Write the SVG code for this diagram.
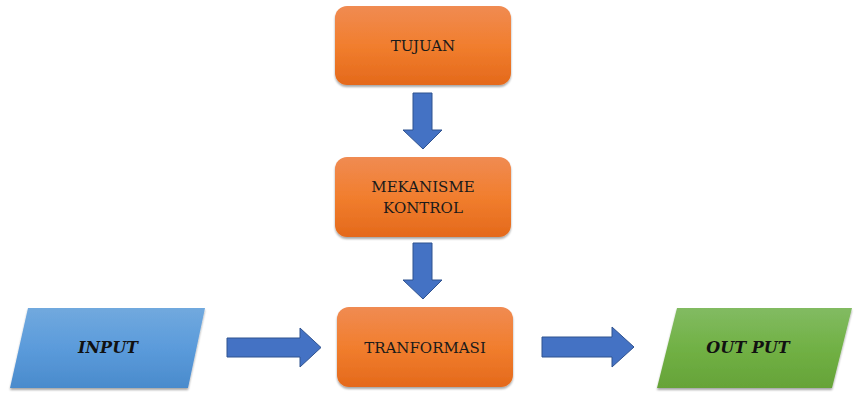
<svg xmlns="http://www.w3.org/2000/svg" width="860" height="394" viewBox="0 0 860 394">
  <defs>
    <linearGradient id="gOrange" x1="0" y1="0" x2="0" y2="1">
      <stop offset="0" stop-color="#F08B52"/>
      <stop offset="0.5" stop-color="#F17E2E"/>
      <stop offset="1" stop-color="#E4691B"/>
    </linearGradient>
    <linearGradient id="gBlue" x1="0" y1="0" x2="0" y2="1">
      <stop offset="0" stop-color="#71A9DE"/>
      <stop offset="0.5" stop-color="#5B9BDB"/>
      <stop offset="1" stop-color="#4A8BCC"/>
    </linearGradient>
    <linearGradient id="gGreen" x1="0" y1="0" x2="0" y2="1">
      <stop offset="0" stop-color="#82BB62"/>
      <stop offset="0.5" stop-color="#71B145"/>
      <stop offset="1" stop-color="#66A338"/>
    </linearGradient>
    <filter id="shadow" x="-10%" y="-10%" width="120%" height="130%">
      <feGaussianBlur in="SourceAlpha" stdDeviation="1.2"/>
      <feOffset dx="0" dy="1.5"/>
      <feComponentTransfer><feFuncA type="linear" slope="0.35"/></feComponentTransfer>
      <feMerge><feMergeNode/><feMergeNode in="SourceGraphic"/></feMerge>
    </filter>
  </defs>
  <style>
    .box { fill: url(#gOrange); filter: url(#shadow); }
    .lbl { font-family: "DejaVu Serif", "Liberation Serif", serif; font-size: 15px; fill: #1a1a1a; text-anchor: middle; }
    .io { font-family: "DejaVu Serif", "Liberation Serif", serif; font-size: 16px; font-weight: bold; font-style: italic; fill: #111; text-anchor: middle; }
    .arrow { fill: #4472C4; stroke: #2F528F; stroke-width: 1; }
  </style>
  <rect width="860" height="394" fill="#ffffff"/>

  <g id="tujuan">
    <rect class="box" x="335" y="6" width="176" height="79" rx="12"/>
    <text class="lbl" x="423" y="51">TUJUAN</text>
  </g>

  <g id="mekanisme-kontrol">
    <rect class="box" x="335" y="157" width="176" height="80" rx="12"/>
    <text class="lbl" x="423" y="192">MEKANISME</text>
    <text class="lbl" x="423" y="213">KONTROL</text>
  </g>

  <g id="tranformasi">
    <rect class="box" x="337" y="307" width="176" height="80" rx="12"/>
    <text class="lbl" x="425" y="353">TRANFORMASI</text>
  </g>

  <g id="input">
    <polygon points="28,308 205,308 188,388 10,388" fill="url(#gBlue)" filter="url(#shadow)"/>
    <text class="io" x="108" y="353">INPUT</text>
  </g>

  <g id="output">
    <polygon points="677,308 852,308 832,388 657,388" fill="url(#gGreen)" filter="url(#shadow)"/>
    <text class="io" x="748" y="353">OUT PUT</text>
  </g>

  <g id="connectors">
    <polygon class="arrow" points="413,93 432,93 432,130 442,130 423,149 403,130 413,130"/>
    <polygon class="arrow" points="413,243 432,243 432,280 442,280 423,299 403,280 413,280"/>
    <polygon class="arrow" points="227,338 300,338 300,328 321,347.5 300,367 300,357 227,357"/>
    <polygon class="arrow" points="542,337 612,337 612,327 634,347 612,367 612,357 542,357"/>
  </g>
</svg>
